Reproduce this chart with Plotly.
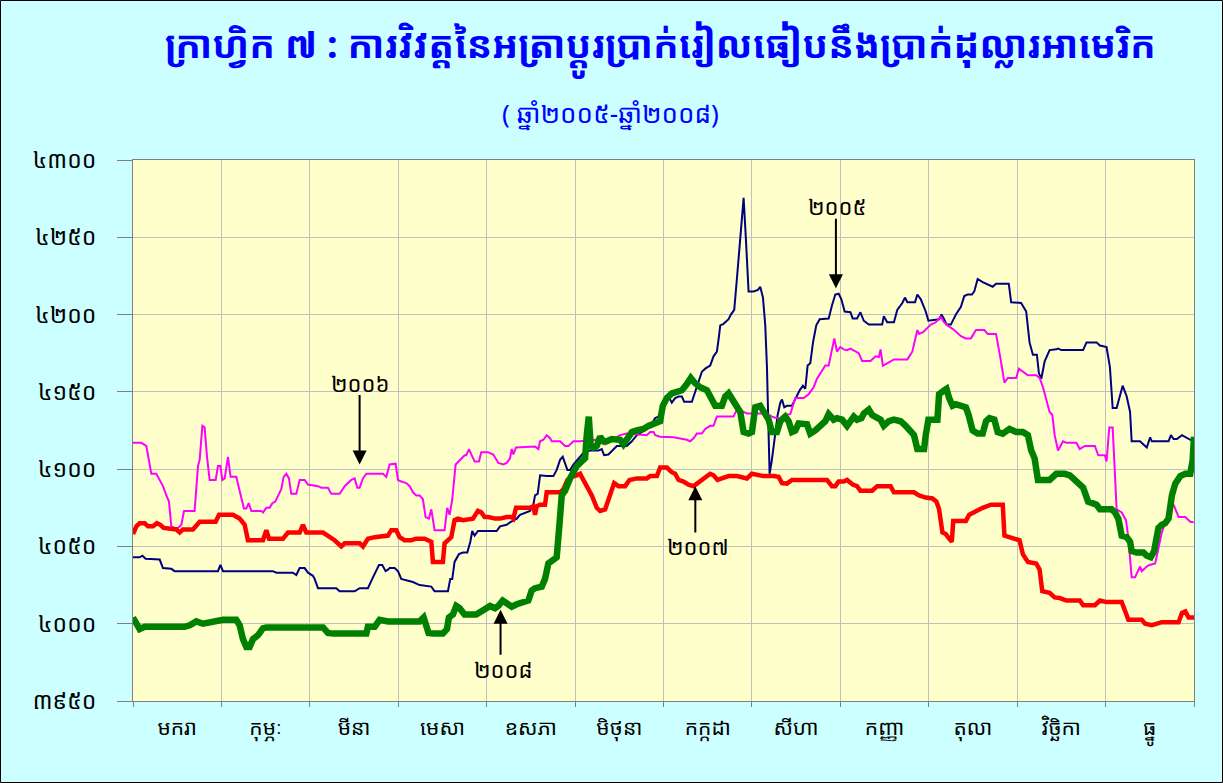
import plotly.graph_objects as go

# ---------------- data (x = position in months, 0 = start of January) -------------
months = ["មករា", "កុម្ភៈ", "មីនា", "មេសា", "ឧសភា", "មិថុនា",
          "កក្កដា", "សីហា", "កញ្ញា", "តុលា", "វិច្ឆិកា", "ធ្នូ"]
y_ticks = [3950, 4000, 4050, 4100, 4150, 4200, 4250, 4300]

x_2005 = [0, 0.075, 0.106, 0.143, 0.302, 0.339, 0.433, 0.471, 0.961, 0.988, 1.018, 1.583, 1.621, 1.809, 1.847,
          1.885, 1.941, 1.979, 2.035, 2.054, 2.092, 2.299, 2.337, 2.507, 2.563, 2.657, 2.714, 2.752, 2.782, 2.819,
          2.857, 2.884, 2.902, 2.959, 2.997, 3.034, 3.091, 3.166, 3.242, 3.374, 3.411, 3.562, 3.588, 3.611, 3.637,
          3.686, 3.732, 3.781, 3.815, 3.837, 3.864, 3.901, 4.033,
          4.113, 4.151, 4.226, 4.264, 4.302, 4.340, 4.377, 4.491, 4.528, 4.547, 4.577, 4.604, 4.679, 4.755, 4.792,
          4.830, 4.860, 4.887, 4.913, 4.943, 4.981, 5.057, 5.102, 5.170, 5.264, 5.302, 5.328, 5.377, 5.434, 5.472,
          5.585, 5.642, 5.698, 5.774, 5.811, 5.868, 5.906, 5.943, 5.981, 6.019, 6.057, 6.094, 6.132, 6.170, 6.208,
          6.234, 6.321, 6.358, 6.396, 6.434, 6.472, 6.528, 6.566, 6.604, 6.623, 6.642, 6.679, 6.736, 6.762, 6.800,
          6.830, 6.868, 6.906, 6.932, 6.962, 7.019, 7.068, 7.094, 7.125, 7.151, 7.170, 7.189, 7.200, 7.226, 7.253,
          7.291, 7.321, 7.340, 7.366, 7.396, 7.453, 7.479, 7.502, 7.540, 7.577, 7.604, 7.630, 7.660, 7.691, 7.728,
          7.766, 7.868, 7.906, 7.943, 7.981,
          8.011, 8.049, 8.114, 8.140, 8.189, 8.227, 8.265, 8.322, 8.473, 8.492, 8.530, 8.606, 8.644, 8.701, 8.731,
          8.758, 8.845, 8.871, 8.909, 8.966, 8.996, 9.117, 9.144, 9.174, 9.201, 9.250, 9.307, 9.364, 9.402, 9.439,
          9.489, 9.515, 9.553, 9.610, 9.686, 9.723, 9.761, 9.905, 9.932, 10.045, 10.102, 10.140, 10.178, 10.223,
          10.246, 10.273, 10.311, 10.367, 10.443, 10.462, 10.500, 10.746, 10.784, 10.898, 10.936, 11.011, 11.049,
          11.080, 11.125, 11.155, 11.193, 11.239, 11.277, 11.295, 11.390, 11.428, 11.466, 11.504, 11.523, 11.712,
          11.739, 11.769, 11.807, 11.864, 11.902, 11.958, 11.996]
v_2005 = [4043, 4043, 4044, 4042, 4041.5, 4036, 4035.5, 4034, 4034, 4038, 4034, 4034, 4033, 4033, 4031.5,
          4036, 4036, 4033, 4031, 4029, 4023, 4023, 4021, 4021, 4023, 4023, 4030, 4035, 4038, 4038,
          4034, 4035, 4036, 4036, 4034, 4029, 4028, 4027, 4025, 4024, 4021, 4021, 4029, 4029, 4040,
          4045, 4046, 4046, 4053, 4060, 4057, 4060, 4060,
          4060, 4063, 4064, 4065.6, 4067, 4068, 4070.5, 4073, 4077, 4083, 4084, 4096, 4095.5, 4095.5, 4099.5,
          4106, 4108, 4103, 4099.5, 4099.5, 4103, 4108, 4111, 4112, 4112, 4113, 4109, 4109.5, 4113, 4115,
          4115, 4118, 4122, 4125, 4126, 4129.5, 4133, 4134, 4140, 4146, 4147, 4143, 4146, 4147, 4147,
          4143.6, 4143.6, 4150, 4157, 4163, 4165, 4167, 4173, 4176, 4184, 4193, 4194, 4197, 4200, 4203,
          4223, 4249, 4275.5, 4249, 4215, 4215, 4216, 4218, 4211, 4193, 4166, 4122, 4097, 4106, 4117,
          4135, 4143, 4145, 4140, 4141, 4141, 4144, 4146, 4151, 4154, 4152, 4167, 4168.5, 4182, 4193,
          4197, 4197.5, 4206, 4213, 4213.5,
          4210, 4202, 4201.5, 4197.5, 4197.5, 4201.5, 4196, 4193.5, 4193.5, 4199, 4195, 4195, 4203, 4207.5, 4211,
          4208, 4208, 4213, 4210, 4202, 4196, 4197, 4200, 4197, 4193.5, 4193.5, 4200, 4205, 4212, 4213,
          4213, 4215, 4223, 4221, 4219, 4218, 4220, 4220, 4208, 4207.5, 4202, 4182, 4174, 4174,
          4162, 4158.5, 4169.7, 4177, 4177.5, 4178, 4177, 4177, 4182, 4182, 4180, 4179, 4166,
          4139.6, 4139.6, 4146, 4154, 4147, 4137, 4118, 4118, 4116, 4114, 4120.6, 4118, 4118,
          4122, 4119.5, 4119.5, 4122, 4120.6, 4119, 4119]

x_2006 = [0.0, 0.094, 0.151, 0.170, 0.207, 0.264, 0.302, 0.339, 0.377, 0.407, 0.433, 0.471, 0.509, 0.528, 0.547,
          0.577, 0.697, 0.735, 0.754, 0.784, 0.810, 0.837, 0.867, 0.935, 0.961, 0.988, 1.010, 1.037, 1.074, 1.104,
          1.168, 1.206, 1.255, 1.282, 1.308, 1.338, 1.451, 1.470, 1.508, 1.545, 1.576, 1.609, 1.640, 1.677, 1.704,
          1.734, 1.764, 1.790, 1.847, 1.885, 1.941, 1.979, 2.092, 2.130, 2.205, 2.243, 2.337, 2.394, 2.469, 2.507,
          2.537, 2.563, 2.601, 2.639, 2.827, 2.865, 2.902, 2.970, 2.997, 3.034, 3.091, 3.129, 3.166, 3.204, 3.242,
          3.279, 3.309, 3.347, 3.374, 3.411, 3.524, 3.554, 3.581, 3.611, 3.649, 3.694, 3.732, 3.750, 3.769, 3.800,
          3.826, 3.864, 3.913, 3.939, 4.014,
          4.075, 4.132, 4.189, 4.226, 4.264, 4.283, 4.302, 4.332, 4.547, 4.585, 4.604, 4.642, 4.679, 4.717, 4.736,
          4.830, 4.887, 4.925, 4.981, 5.057, 5.226, 5.340, 5.509, 5.585, 5.811, 5.849, 5.887, 5.906, 5.962, 6.113,
          6.170, 6.264, 6.302, 6.340, 6.377, 6.434, 6.472, 6.528, 6.566, 6.604, 6.792, 6.830, 6.906, 6.943, 7.170,
          7.226, 7.283, 7.321, 7.358, 7.434, 7.491, 7.585, 7.642, 7.698, 7.736, 7.774, 7.830, 7.868, 7.906, 7.932,
          7.962,
          8.0, 8.038, 8.076, 8.114, 8.152, 8.208, 8.246, 8.341, 8.398, 8.436, 8.455, 8.481, 8.530, 8.606, 8.758,
          8.814, 8.871, 8.890, 8.936, 8.985, 9.023, 9.080, 9.136, 9.174, 9.212, 9.288, 9.364, 9.420, 9.477, 9.534,
          9.629, 9.667, 9.761, 9.807, 9.856, 9.894, 9.989, 10.019, 10.083, 10.121, 10.216, 10.254, 10.292, 10.330,
          10.367, 10.398, 10.424, 10.462, 10.519, 10.557, 10.670, 10.708, 10.765, 10.879, 10.917, 10.992, 11.011,
          11.042, 11.080, 11.125, 11.182, 11.231, 11.258, 11.295, 11.333, 11.390, 11.409, 11.466, 11.496, 11.561,
          11.598, 11.636, 11.674, 11.731, 11.769, 11.826, 11.902, 11.958, 11.996]
v_2006 = [4117, 4117, 4115, 4108, 4097, 4097, 4093, 4089, 4083, 4079, 4063, 4062, 4062, 4063, 4064,
          4073, 4073, 4102, 4106, 4128, 4127, 4108, 4093, 4093, 4102, 4102, 4093, 4094, 4108, 4095,
          4095, 4086, 4074.5, 4074.5, 4078, 4073, 4073, 4072, 4075, 4075, 4078, 4079, 4083, 4087, 4095,
          4097, 4094, 4084, 4084, 4093, 4093, 4090, 4089, 4088, 4088, 4084, 4084, 4089, 4093, 4094,
          4088, 4088, 4094, 4097, 4097, 4095, 4103, 4103.5, 4093, 4092, 4091, 4089, 4085, 4083, 4083,
          4080.5, 4069, 4068, 4074, 4060.5, 4060.5, 4075, 4070.5, 4080.5, 4103, 4106, 4108, 4109, 4109, 4113,
          4109.5, 4105, 4105, 4111, 4111,
          4109.5, 4104, 4103, 4104, 4107, 4113, 4109.5, 4114, 4114.6, 4113, 4118, 4119, 4122, 4120, 4118,
          4118, 4115, 4115, 4118, 4118, 4119, 4116, 4122, 4123, 4122, 4124, 4124, 4122, 4121, 4120.6,
          4120, 4119, 4118, 4120, 4123, 4123, 4126, 4128, 4128, 4134, 4134, 4138.5, 4137, 4136, 4136,
          4134, 4133, 4133, 4135, 4135.6, 4146, 4146, 4148.5, 4153, 4158.5, 4162, 4167, 4167, 4178.6, 4184.6,
          4176,
          4179, 4177.5, 4177, 4178, 4177, 4175, 4170, 4170, 4173, 4172.5, 4177.5, 4167, 4168.5, 4171, 4171,
          4176, 4190, 4187.5, 4188.6, 4191, 4193.5, 4195, 4198.6, 4195, 4193, 4190, 4186, 4184.6, 4184.6, 4190,
          4190, 4187.5, 4187.5, 4173, 4156, 4159, 4159, 4165, 4162, 4160.7, 4160.7, 4159, 4153, 4144,
          4137, 4135, 4122, 4112, 4118, 4117, 4117, 4113, 4115, 4115, 4109, 4109, 4105,
          4127, 4127, 4074, 4072, 4067, 4055, 4030, 4030, 4037, 4034, 4037, 4038, 4039,
          4049, 4059, 4065, 4074, 4077, 4069, 4069, 4066, 4065.6]

x_2007 = [0, 0.038, 0.075, 0.132, 0.170, 0.226, 0.271, 0.309, 0.347, 0.490, 0.528, 0.565, 0.678, 0.754, 0.935,
          0.973, 1.131, 1.206, 1.263, 1.300, 1.470, 1.508, 1.538, 1.696, 1.753, 1.885, 1.922, 1.960, 2.149, 2.224,
          2.280, 2.356, 2.394, 2.563, 2.601, 2.657, 2.733, 2.884, 2.921, 2.978, 3.015, 3.072, 3.147, 3.204, 3.298,
          3.374, 3.392, 3.505, 3.524, 3.600, 3.637, 3.675, 3.732, 3.845, 3.901, 3.939, 3.977,
          4.019, 4.094, 4.151, 4.226, 4.283, 4.302, 4.332, 4.491, 4.528, 4.547, 4.566, 4.604, 4.660, 4.679, 4.830,
          4.868, 4.913, 4.962, 5.019, 5.057, 5.075, 5.132, 5.189, 5.245, 5.283, 5.340, 5.396, 5.442, 5.491, 5.566,
          5.615, 5.698, 5.811, 5.849, 5.925, 5.962, 6.038, 6.094, 6.132, 6.170, 6.226, 6.283, 6.340, 6.415, 6.472,
          6.528, 6.566, 6.611, 6.660, 6.736, 6.830, 6.906, 6.943, 7.000, 7.075, 7.132, 7.245, 7.302, 7.340, 7.396,
          7.453, 7.491, 7.849, 7.906, 7.943,
          7.981, 8.038, 8.076, 8.102, 8.140, 8.189, 8.227, 8.360, 8.417, 8.568, 8.606, 8.833, 8.890, 8.966, 9.042,
          9.087, 9.117, 9.155, 9.193, 9.231, 9.261, 9.277, 9.420, 9.458, 9.534, 9.610, 9.705, 9.837, 9.856, 9.913,
          9.989, 10.027, 10.064, 10.121, 10.216, 10.254, 10.284, 10.367, 10.424, 10.481, 10.557, 10.708, 10.746,
          10.879, 10.936, 11.011, 11.182, 11.220, 11.258, 11.409, 11.447, 11.523, 11.636, 11.826, 11.864, 11.902,
          11.939, 12.0]
v_2007 = [4058, 4063, 4065, 4065, 4063, 4063, 4065, 4064, 4062, 4061, 4059, 4061, 4061, 4066, 4066,
          4070.5, 4070.5, 4068, 4064, 4054, 4054, 4060.5, 4055, 4055, 4059, 4059, 4064, 4059, 4059, 4056,
          4054, 4050, 4052, 4052, 4050, 4055, 4056, 4057, 4060.5, 4060.5, 4056, 4054, 4054, 4055, 4055,
          4053, 4040, 4040, 4052, 4056, 4067, 4068, 4067, 4068, 4073, 4072, 4069,
          4069, 4068, 4068, 4069, 4069, 4068, 4075, 4075, 4076, 4070.5, 4076, 4077, 4077, 4085, 4085,
          4087, 4093, 4095, 4096, 4097, 4095, 4089, 4083, 4075, 4073, 4074, 4084, 4091, 4089, 4089,
          4093, 4094, 4094, 4095.5, 4095.5, 4101, 4101, 4098, 4097, 4093, 4092, 4090, 4089, 4092, 4095,
          4097, 4096, 4093, 4094, 4095.5, 4095.5, 4094, 4094, 4097, 4096, 4095.5, 4095.5, 4095, 4091, 4090.6,
          4093, 4093, 4093, 4089, 4089,
          4092, 4092, 4093, 4092, 4090, 4089, 4086, 4086, 4089, 4089, 4085, 4085, 4083, 4081.6, 4081,
          4079, 4074, 4059, 4058, 4055, 4053, 4066.5, 4066.5, 4070.5, 4073, 4075, 4077, 4077, 4057, 4056,
          4055, 4054, 4045, 4040, 4039, 4035, 4021, 4020, 4017, 4016.6, 4015, 4015, 4012,
          4012, 4015, 4014, 4014, 4009, 4002.5, 4002.5, 4000, 3999, 4001, 4001, 4007, 4008,
          4004, 4004]

x_2008 = [0, 0.038, 0.075, 0.132, 0.452, 0.509, 0.584, 0.641, 0.716, 0.792, 0.905, 1.018, 1.168, 1.206, 1.244,
          1.282, 1.319, 1.357, 1.413, 1.470, 1.508, 2.149, 2.205, 2.262, 2.639, 2.657, 2.733, 2.789, 2.884, 3.242,
          3.287, 3.317, 3.343, 3.392, 3.505, 3.551, 3.573, 3.619, 3.656, 3.694, 3.750, 3.882, 3.958, 4.014,
          4.038, 4.094, 4.132, 4.181, 4.226, 4.283, 4.340, 4.415, 4.472, 4.509, 4.547, 4.623, 4.660, 4.698, 4.755,
          4.792, 4.823, 4.849, 4.887, 4.913, 4.943, 4.981, 5.019, 5.075, 5.113, 5.132, 5.155, 5.177, 5.208, 5.245,
          5.283, 5.321, 5.358, 5.415, 5.509, 5.547, 5.585, 5.642, 5.698, 5.774, 5.830, 5.887, 5.962, 5.992, 6.038,
          6.094, 6.151, 6.208, 6.264, 6.309, 6.358, 6.415, 6.491, 6.547, 6.585, 6.660, 6.698, 6.736, 6.774, 6.811,
          6.868, 6.906, 6.962, 7.000, 7.038, 7.094, 7.151, 7.189, 7.226, 7.283, 7.321, 7.340, 7.377, 7.415, 7.453,
          7.491, 7.528, 7.623, 7.660, 7.717, 7.774, 7.830, 7.868, 7.925,
          7.962, 8.019, 8.076, 8.114, 8.152, 8.189, 8.239, 8.265, 8.322, 8.360, 8.417, 8.455, 8.492, 8.549, 8.606,
          8.682, 8.739, 8.795, 8.833, 8.871, 8.947, 8.966, 8.996, 9.098, 9.117, 9.174, 9.201, 9.231, 9.269, 9.307,
          9.364, 9.420, 9.451, 9.496, 9.553, 9.610, 9.648, 9.686, 9.742, 9.780, 9.837, 9.913, 9.989, 10.064,
          10.121, 10.159, 10.197, 10.235, 10.367, 10.443, 10.538, 10.595, 10.633, 10.689, 10.746, 10.803, 10.841,
          10.898, 10.936, 11.011, 11.068, 11.106, 11.144, 11.182, 11.239, 11.277, 11.295, 11.352, 11.428, 11.466,
          11.511, 11.549, 11.598, 11.636, 11.674, 11.712, 11.750, 11.788, 11.845, 11.902, 11.958, 11.985, 12.0]
v_2008 = [4004, 4000, 3996.5, 3998, 3998, 3997, 3998, 3999, 4001.5, 4000, 4001.5, 4002.5, 4002.5, 3999, 3990,
          3985, 3985, 3990, 3992.5, 3997, 3997.6, 3997.6, 3994, 3993.6, 3993.6, 3998, 3998, 4002.5, 4001.5, 4001.5,
          4004, 4000, 3994, 3993.6, 3993.6, 3996.5, 4004, 4006, 4011.5, 4010, 4006, 4006, 4009, 4011.5,
          4011.5, 4010, 4011.5, 4015, 4013, 4011, 4012.6, 4014, 4015, 4021.5, 4023, 4024, 4029, 4039, 4041.5,
          4043, 4064, 4083, 4086, 4091, 4094, 4098, 4102, 4105, 4107, 4122, 4134, 4115, 4114, 4115,
          4121, 4118, 4118, 4119.5, 4119, 4116, 4119, 4124, 4125, 4126, 4128, 4129.5, 4131, 4141, 4146,
          4149, 4150, 4151, 4155, 4159, 4155.6, 4153, 4151, 4146, 4141, 4141, 4147, 4149, 4146, 4142,
          4137, 4124, 4123, 4124, 4140, 4141, 4136, 4132, 4124, 4124, 4131, 4132, 4134, 4131, 4124,
          4125, 4129.5, 4129, 4123, 4125, 4128, 4131, 4135.6, 4132,
          4133, 4132, 4128, 4132, 4134, 4132, 4133, 4136, 4138.5, 4135, 4133, 4132, 4128, 4131, 4132,
          4131, 4128, 4125, 4122, 4113, 4113, 4122, 4132, 4132, 4148.5, 4151, 4152, 4146, 4141, 4142,
          4141, 4140, 4135, 4125, 4123, 4123, 4131, 4133, 4132, 4124, 4123, 4126, 4124, 4124,
          4122, 4112, 4107, 4093, 4093, 4097, 4097, 4096, 4094, 4090.6, 4088, 4079, 4078,
          4077, 4074, 4074.5, 4074, 4072, 4068, 4057, 4056, 4053, 4047, 4046, 4046, 4044,
          4043, 4047, 4062, 4064, 4065, 4068, 4083, 4090.6, 4095.5, 4097, 4097, 4106, 4121]

series = [
    ("២០០៥", x_2005, v_2005, "#000080", 2),
    ("២០០៦", x_2006, v_2006, "#FF00FF", 2),
    ("២០០៧", x_2007, v_2007, "#FF0000", 4.5),
    ("២០០៨", x_2008, v_2008, "#008000", 6.5),
]

# year labels: text, text position, arrow tail, arrow tip
label_text = ["២០០៦", "២០០៥", "២០០៧", "២០០៨"]
label_pos = [(2.563, 4156), (7.96, 4270), (6.39, 4050), (4.19, 3971)]
arrow_tail = [(2.563, 4149), (7.95, 4263), (6.36, 4058), (4.157, 3979)]
arrow_tip = [(2.563, 4103), (7.95, 4217), (6.36, 4089), (4.157, 4009)]

KH = str.maketrans("0123456789", "០១២៣៤៥៦៧៨៩")
KFONT = "Khmer OS, Khmer OS System, Noto Sans Khmer, Noto Serif Khmer, Hanuman, DejaVu Sans, sans-serif"

fig = go.Figure()
for name, xs, vs, col, w in series:
    fig.add_trace(go.Scatter(x=xs, y=vs, mode="lines", name=name,
                             line=dict(color=col, width=w), showlegend=False))

for t, (tx, ty), (ax, ay), (x, y) in zip(label_text, label_pos, arrow_tail, arrow_tip):
    fig.add_annotation(x=x, y=y, ax=ax, ay=ay, xref="x", yref="y", axref="x", ayref="y",
                       text="", showarrow=True, arrowhead=2, arrowsize=1.4, arrowwidth=2,
                       arrowcolor="black", standoff=0, startstandoff=0)
    fig.add_annotation(x=tx, y=ty, xref="x", yref="y", text=t, showarrow=False,
                       font=dict(family=KFONT, size=22, color="black"))

L, R, T, B = 133, 29, 160, 82
W, H = 1223, 783
pw, ph = W - L - R, H - T - B


def px(xp):
    return (xp - L) / pw


def py(yp):
    return (H - B - yp) / ph


fig.add_annotation(x=px(660), y=py(48), xref="paper", yref="paper", showarrow=False,
                   xanchor="center", yanchor="middle",
                   text="<b>ក្រាហ្វិក ៧ : ការវិវត្តនៃអត្រាប្តូរប្រាក់រៀលធៀបនឹងប្រាក់ដុល្លារអាមេរិក</b>",
                   font=dict(family=KFONT, size=38, color="#0000FF", weight=900))
fig.add_annotation(x=px(610), y=py(113), xref="paper", yref="paper", showarrow=False,
                   xanchor="center", yanchor="middle",
                   text="( ឆ្នាំ២០០៥-ឆ្នាំ២០០៨)",
                   font=dict(family=KFONT, size=26, color="#0000FF"))

# border round the whole picture
fig.add_shape(type="rect", xref="paper", yref="paper",
              x0=px(0.5), x1=px(W - 0.5), y0=py(H - 0.5), y1=py(0.5),
              line=dict(color="#000000", width=1), fillcolor="rgba(0,0,0,0)", layer="above")

fig.update_layout(
    width=W, height=H,
    margin=dict(l=L, r=R, t=T, b=B),
    paper_bgcolor="#CCFFFF", plot_bgcolor="#FFFFCC",
    font=dict(family=KFONT, color="black"),
    showlegend=False,
)
fig.update_xaxes(
    range=[0, 12], tickmode="array",
    tickvals=[i + 0.5 for i in range(12)], ticktext=months,
    ticks="outside", ticklen=8, tickcolor="rgba(0,0,0,0)",
    showgrid=False, zeroline=False,
    tickfont=dict(family=KFONT, size=21, color="black"),
    showline=True, linecolor="#808080", linewidth=1, mirror=True,
    minor=dict(tickvals=list(range(13)), showgrid=True, gridcolor="#C0C0C0", gridwidth=1,
               ticks="outside", ticklen=5, tickcolor="#808080"),
)
fig.update_yaxes(
    range=[3950, 4300], tickmode="array",
    tickvals=y_ticks, ticktext=[str(v).translate(KH) for v in y_ticks],
    ticks="outside", ticklen=15, tickcolor="#808080",
    showgrid=True, gridcolor="#C0C0C0", gridwidth=1, zeroline=False,
    tickfont=dict(family=KFONT, size=23, color="black"),
    showline=True, linecolor="#808080", linewidth=1, mirror=True,
    ticklabelstandoff=16,
)

fig.write_html(
    "out.html",
    config={"displayModeBar": False},
    post_script="document.body.style.margin='0';document.body.style.padding='0';"
                "document.body.style.overflow='hidden';",
)
